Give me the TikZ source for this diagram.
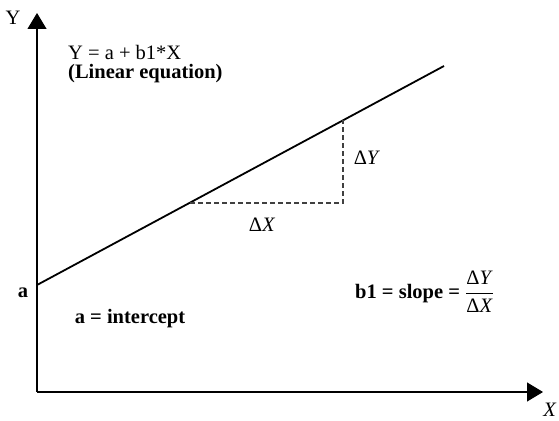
\documentclass[tikz,border=0pt]{standalone}
\usepackage{amsmath}
\usepackage{fontspec}
\setmainfont{Liberation Serif}
\usepackage{tikz}
\usetikzlibrary{arrows.meta,positioning,calc}
\newcommand{\dY}{\text{Δ\textit{Y}}}
\newcommand{\dX}{\text{Δ\textit{X}}}

\begin{document}
\begin{tikzpicture}[x=1pt,y=1pt,
    every node/.style={font=\fontsize{20.5}{23}\selectfont,inner sep=0pt},
    axis/.style={line width=1.2pt,-{Triangle[length=16pt,width=19pt]}},
    guide/.style={line width=1.2pt,draw=black!75,dash pattern=on 5pt off 3pt}]
    \useasboundingbox (0,0) rectangle (559,420);
    % axes
    \coordinate (origin) at (37,28);
    \coordinate (ytip) at (37,407);
    \coordinate (xtip) at (543,28);
    \draw[axis] (origin) -- (ytip);
    \draw[axis] (origin) -- (xtip);
    \node (ylabel) at (13,402) {Y};
    \node (xlabel) at (550,10) {\textit{X}};
    % regression line and the slope triangle
    \coordinate (linestart) at (37,135);
    \coordinate (lineend) at (444,354);
    \draw[line width=1.8pt] (linestart) -- (lineend);
    \coordinate (dxstart) at (190,217);
    \coordinate (corner) at (343,217);
    \coordinate (dyend) at (343,300);
    \draw[guide] (dxstart) -- (corner) -- (dyend);
    \node (dy) at (367,262) {Δ\textit{Y}};
    \node (dx) at (262,195) {Δ\textit{X}};
    % labels
    \node[anchor=west] (eqn) at (68,368) {Y = a + b1*X};
    \node[anchor=west,font=\fontsize{20.5}{23}\selectfont\bfseries] (eqnlabel) at (68,346) {(Linear equation)};
    \node[font=\fontsize{20.5}{23}\selectfont\bfseries] (alabel) at (23,127) {a};
    \node[font=\fontsize{20.5}{23}\selectfont\bfseries] (intercept) at (130,101) {a = intercept};
    \node[anchor=west] (slope) at (355,128) {\textbf{b1 = slope =} $\displaystyle\frac{\dY}{\dX}$};
\end{tikzpicture}
\end{document}
